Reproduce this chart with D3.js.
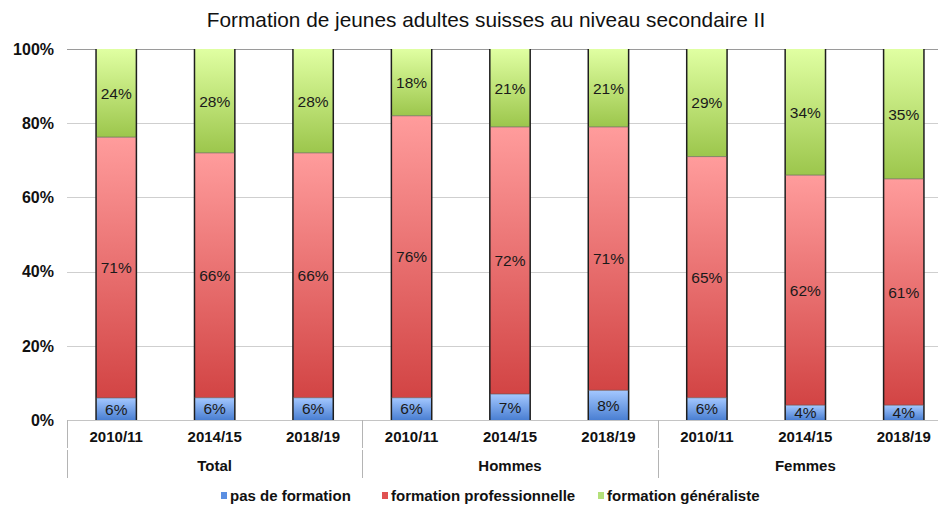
<!DOCTYPE html>
<html>
<head>
<meta charset="utf-8">
<script src="https://cdn.jsdelivr.net/npm/d3@7"></script>
<style>
  body { margin: 0; background: #fff; }
  svg { display: block; font-family: "Liberation Sans", Arial, sans-serif; }
</style>
</head>
<body>
<div id="chart"></div>
<script>
const groups = ['Total', 'Hommes', 'Femmes'];
const years = ['2010/11', '2014/15', '2018/19'];
const seriesNames = ['pas de formation', 'formation professionnelle', 'formation généraliste'];
const pasDeFormation = [6, 6, 6, 6, 7, 8, 6, 4, 4];
const formationPro = [71, 66, 66, 76, 72, 71, 65, 62, 61];
const formationGen = [24, 28, 28, 18, 21, 21, 29, 34, 35];
const yTicks = [0, 0.2, 0.4, 0.6, 0.8, 1];

const width = 938, height = 505;
const margin = { top: 49, left: 67, bottom: 85 };

// 9 categories = 3 groups x 3 years
const rows = [];
groups.forEach((g, gi) => years.forEach((y, yi) => {
  const i = gi * 3 + yi;
  rows.push({ key: g + '|' + y, group: g, year: y, s0: pasDeFormation[i], s1: formationPro[i], s2: formationGen[i] });
}));

const svg = d3.select('#chart').append('svg')
  .attr('width', width).attr('height', height);

const defs = svg.append('defs');
const grads = [
  ['#a4c8ff', '#4a7fd2'],
  ['#ff9c9c', '#d24444'],
  ['#e0ffa2', '#9cc64c']
];
grads.forEach((c, i) => {
  const lg = defs.append('linearGradient').attr('id', 'g' + i)
    .attr('x1', 0).attr('y1', 0).attr('x2', 0).attr('y2', 1);
  lg.append('stop').attr('offset', '0%').attr('stop-color', c[0]);
  lg.append('stop').attr('offset', '100%').attr('stop-color', c[1]);
});
const legendColors = ['#5b8fe2', '#e05252', '#b4e07a'];

const x = d3.scaleBand()
  .domain(rows.map(d => d.key))
  .range([margin.left, 953])
  .paddingInner(0.59)
  .paddingOuter(0.295);

const y = d3.scaleLinear().domain([0, 1]).range([420, margin.top]);

// gridlines
svg.append('g').selectAll('line')
  .data(yTicks.slice(1))
  .join('line')
  .attr('x1', margin.left).attr('x2', width)
  .attr('y1', d => Math.round(y(d)) + 0.5).attr('y2', d => Math.round(y(d)) + 0.5)
  .attr('stroke', d => d === 1 ? '#9a9a9a' : '#cfcfcf');

// y tick labels
svg.append('g').selectAll('text')
  .data(yTicks)
  .join('text')
  .attr('x', 54).attr('y', d => y(d))
  .attr('dy', '0.36em')
  .attr('text-anchor', 'end')
  .attr('font-size', 16).attr('font-weight', 'bold')
  .attr('fill', '#111')
  .text(d => d3.format('.0%')(d));

const stack = d3.stack().keys(['s0', 's1', 's2']).offset(d3.stackOffsetExpand);
const stacked = stack(rows);

const layer = svg.append('g').selectAll('g')
  .data(stacked)
  .join('g')
  .attr('fill', (d, i) => `url(#g${i})`);

layer.selectAll('rect')
  .data(d => d.map(p => ({ p, key: p.data.key })))
  .join('rect')
  .attr('x', d => x(d.key))
  .attr('width', x.bandwidth())
  .attr('y', d => y(d.p[1]))
  .attr('height', d => y(d.p[0]) - y(d.p[1]));

// dark side borders on bars
const sides = svg.append('g').attr('stroke', '#1e1e1e').attr('stroke-width', 1.5);
rows.forEach(r => {
  [x(r.key), x(r.key) + x.bandwidth()].forEach(xx => {
    sides.append('line')
      .attr('x1', xx).attr('x2', xx)
      .attr('y1', y(1)).attr('y2', y(0));
  });
});
// thin dividers between segments
svg.append('g').selectAll('line')
  .data(stacked.slice(0, 2).flatMap(s => s.map(p => ({ key: p.data.key, v: p[1] }))))
  .join('line')
  .attr('x1', d => x(d.key)).attr('x2', d => x(d.key) + x.bandwidth())
  .attr('y1', d => y(d.v)).attr('y2', d => y(d.v))
  .attr('stroke', '#555').attr('stroke-width', 0.6);

// data labels
const labelData = [];
stacked.forEach((s, si) => s.forEach(p => {
  labelData.push({ key: p.data.key, mid: (p[0] + p[1]) / 2, v: p.data['s' + si] });
}));
svg.append('g').selectAll('text')
  .data(labelData)
  .join('text')
  .attr('x', d => x(d.key) + x.bandwidth() / 2)
  .attr('y', d => y(d.mid))
  .attr('dy', '0.36em')
  .attr('text-anchor', 'middle')
  .attr('font-size', 15.5)
  .attr('fill', '#1a1a1a')
  .text(d => d.v + '%');

// x axis line
svg.append('line')
  .attr('x1', margin.left).attr('x2', width)
  .attr('y1', 420.5).attr('y2', 420.5)
  .attr('stroke', '#c4c4c4');

// year labels
svg.append('g').selectAll('text')
  .data(rows)
  .join('text')
  .attr('x', d => x(d.key) + x.bandwidth() / 2)
  .attr('y', 437)
  .attr('dy', '0.36em')
  .attr('text-anchor', 'middle')
  .attr('font-size', 15).attr('font-weight', 'bold')
  .attr('fill', '#111')
  .text(d => d.year);

// group labels and separators
const step = x.step();
const groupX = gi => margin.left + gi * 3 * step;
svg.append('g').selectAll('text')
  .data(groups)
  .join('text')
  .attr('x', (d, i) => groupX(i) + 1.5 * step)
  .attr('y', 466)
  .attr('dy', '0.36em')
  .attr('text-anchor', 'middle')
  .attr('font-size', 15).attr('font-weight', 'bold')
  .attr('fill', '#111')
  .text(d => d);

const sep = svg.append('g').attr('stroke', '#b4b4b4');
d3.range(groups.length + 1).forEach(gi => {
  const xx = Math.round(groupX(gi)) + 0.5;
  sep.append('line').attr('x1', xx).attr('x2', xx).attr('y1', 420).attr('y2', 448);
  sep.append('line').attr('x1', xx).attr('x2', xx).attr('y1', 450).attr('y2', 478);
});

// title
svg.append('text')
  .attr('x', 486).attr('y', 20)
  .attr('dy', '0.36em')
  .attr('text-anchor', 'middle')
  .attr('font-size', 20.8)
  .attr('fill', '#111')
  .text('Formation de jeunes adultes suisses au niveau secondaire II');

// legend
const legendX = [221, 382, 598];
const legend = svg.append('g').selectAll('g')
  .data(seriesNames)
  .join('g')
  .attr('transform', (d, i) => `translate(${legendX[i]},496)`);
legend.append('rect')
  .attr('x', 0).attr('y', -4).attr('width', 6).attr('height', 7)
  .attr('fill', (d, i) => legendColors[i]);
legend.append('text')
  .attr('x', 9).attr('dy', '0.36em')
  .attr('font-size', 15).attr('font-weight', 'bold')
  .attr('fill', '#111')
  .text(d => d);
</script>
</body>
</html>
